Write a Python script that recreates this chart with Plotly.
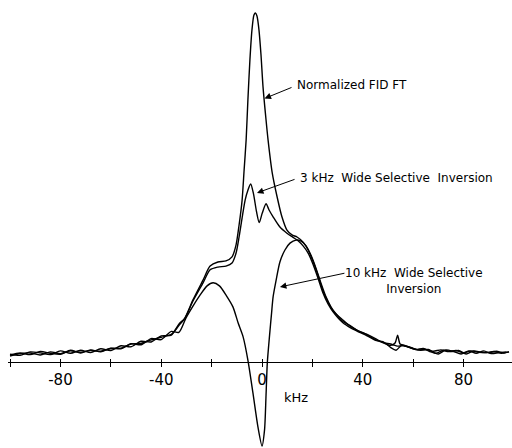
import plotly.graph_objects as go

# ---- data (frequency offset in kHz, relative intensity, FID FT peak = 100) ----
fid_x = [-100, -96, -92, -88, -84, -80, -76, -72, -68, -64, -60, -56, -52, -48, -44, -40, -36, -33,
         -30.6, -27.4, -23.4, -20.6, -17.5, -14.3, -11.9, -10.3, -9.1, -7.9, -7.1, -6.3, -5.6, -4.8,
         -4.0, -3.2, -2.6, -2.0, -1.2, -0.4, 0.4, 1.6, 2.4, 4.0, 6.0, 7.9, 9.9, 11.9, 13.9, 16.3,
         18.3, 20.2, 22.2, 24.2, 26.2, 28.2, 32.1, 35, 37.7, 41.7, 45, 48, 51, 53.6, 56, 59, 62,
         65, 68, 71, 74, 77, 80, 83, 86, 89, 92, 95, 98]
fid_y = [-0.3, 0.4, 0.6, 0.0, 0.9, 0.4, 1.2, 0.8, 1.3, 1.1, 1.9, 2.0, 3.2, 3.4, 4.4, 5.2, 6.0, 8.6,
         10.8, 16.1, 21.9, 26.0, 27.2, 27.5, 28.7, 32.2, 38.0, 45.3, 54.1, 62.9, 74.6, 86.3,
         95.0, 99.4, 100.0, 99.1, 95.0, 87.7, 78.4, 68.7, 62.9, 53.5, 46.2, 40.4, 36.5, 35.1, 34.5, 33.0,
         30.7, 27.5, 23.4, 18.7, 15.5, 12.9, 10.2, 8.4, 7.3, 6.0, 4.8, 3.6, 3.2, 2.6, 2.7, 2.2, 1.5,
         1.6, 1.1, 1.5, 1.0, 1.3, 0.6, 1.2, 0.8, 0.7, 1.0, 0.5, 0.9]

sel3_x = [-100, -96, -92, -88, -84, -80, -76, -72, -68, -64, -60, -56, -52, -48, -44, -40, -36, -33,
          -30.6, -27.4, -23.4, -20.6, -17.5, -14.3, -11.9, -10.3, -9.1, -7.9, -6.7, -5.6, -4.5,
          -3.4, -2.2, -1.1, 0.1, 1.6, 2.8, 4.4, 7.1, 9.9, 12.3, 14.3, 16.3, 18.3, 20.2, 22.2, 24.2,
          26.2, 28.2, 32.1, 35, 37.7, 41.7, 45, 48, 51, 53.2, 55.5, 58, 61, 64, 67, 70, 73, 76, 79,
          82, 85, 88, 91, 94, 97]
sel3_y = [0.2, -0.1, 0.9, 0.6, 0.1, 1.2, 0.5, 1.4, 0.7, 1.8, 1.3, 2.7, 2.4, 4.0, 3.8, 5.6, 5.8, 9.0,
          10.8, 15.8, 21.1, 24.9, 25.7, 26.0, 26.9, 29.8, 34.5, 40.1, 45.3, 48.2, 50.0,
          47.2, 42.0, 38.7, 41.5, 44.2, 42.4, 40.4, 37.4, 35.6, 34.4, 33.4, 31.9, 29.8, 26.6, 22.5, 18.1,
          14.9, 12.6, 9.4, 8.0, 7.0, 5.6, 4.3, 3.9, 2.2, 1.4, 2.9, 2.4, 1.6, 1.9, 0.9, 0.3, 1.5, 1.0, 0.3,
          1.2, 0.5, 1.2, 0.4, 0.7, 0.9]

sel10_x = [-100, -96, -92, -88, -84, -80, -76, -72, -68, -64, -60, -56, -52, -48, -44, -40, -36, -33,
           -30.2, -27.4, -24.6, -21.8, -19.4, -16.9, -14.1, -11.5, -9.5, -7.5, -5.6, -3.6, -1.6, 0.0,
           1.0, 1.6, 2.1, 3.0, 3.8, 4.4, 5.6, 7.1, 9.1, 11.1, 13.5, 15.5, 17.5, 19.4, 21.4, 23.4,
           25.4, 27.4, 29.4, 32.1, 35, 37.7, 41.7, 45, 48, 51, 52.8, 53.8, 54.8, 57, 60, 63, 66, 69,
           72, 75, 78, 81, 84, 87, 90, 93, 96, 98]
sel10_y = [0.0, 0.6, 0.1, 1.0, 0.5, 0.2, 1.4, 0.6, 1.5, 0.9, 2.0, 1.8, 3.3, 3.0, 4.8, 4.5, 6.9, 6.6,
           10.8, 14.3, 17.5, 20.2, 21.1, 20.2, 17.3, 14.0, 9.4, 5.3, -1.5, -11.1, -21.1, -26.6,
           -21.9, -11.7, -2.3, 5.8, 12.3, 17.0, 21.9, 27.2, 30.7, 32.7, 33.6, 33.3, 31.9, 29.2, 25.4, 21.0,
           17.0, 14.0, 12.0, 9.8, 8.6, 7.2, 5.9, 4.4, 3.6, 2.8, 3.5, 5.8, 3.2, 2.6, 1.8, 1.4, 1.6, 0.5,
           1.4, 1.0, 1.3, 0.3, 1.2, 0.8, 0.7, 1.1, 0.6, 0.9]

tick_vals = [-80, -40, 0, 40, 80]
tick_text = ["-80", "-40", "0", "40", "80"]

FONT = "DejaVu Sans"
X_RANGE = [-100.8, 99.2]
Y_RANGE = [-27.2, 103.8]

fig = go.Figure()
for xs, ys, name in [(fid_x, fid_y, "Normalized FID FT"),
                     (sel3_x, sel3_y, "3 kHz Wide Selective Inversion"),
                     (sel10_x, sel10_y, "10 kHz Wide Selective Inversion")]:
    fig.add_trace(go.Scatter(x=xs, y=ys, mode="lines", name=name,
                             line=dict(color="black", width=1.4, shape="spline", smoothing=0.7),
                             showlegend=False, hoverinfo="skip"))

# invisible trace to activate the overlay axis carrying the upward tick marks
fig.add_trace(go.Scatter(x=[0], y=[0], xaxis="x2", mode="markers",
                         marker=dict(opacity=0), showlegend=False, hoverinfo="skip"))

axis_pos = (448 - 362) / 448

fig.update_layout(
    width=512, height=448,
    margin=dict(l=0, r=0, t=0, b=0),
    paper_bgcolor="white", plot_bgcolor="white",
    font=dict(family=FONT, color="black"),
    xaxis=dict(range=X_RANGE, domain=[8 / 512, 1], anchor="free", position=axis_pos,
               showgrid=False, zeroline=False, showline=True, linecolor="black", linewidth=1.3,
               tickmode="array", tickvals=tick_vals, ticktext=tick_text,
               ticks="outside", ticklen=4, tickwidth=1.3, tickcolor="black",
               minor=dict(dtick=20, tick0=0, ticks="outside", ticklen=4, tickwidth=1.3, tickcolor="black"),
               tickfont=dict(family=FONT, size=15, color="black")),
    xaxis2=dict(range=X_RANGE, domain=[8 / 512, 1], overlaying="x", anchor="free", position=axis_pos,
                showgrid=False, zeroline=False, showline=False, showticklabels=False,
                tickmode="linear", tick0=0, dtick=20, ticks="inside", ticklen=3, tickwidth=1.3,
                tickcolor="black"),
    yaxis=dict(range=Y_RANGE, visible=False, showgrid=False, zeroline=False),
)

annos = [
    dict(x=13.1, y=78.9, text="Normalized FID FT", xanchor="left", size=12),
    dict(x=14.3, y=51.8, text="3 kHz  Wide Selective  Inversion", xanchor="left", size=12),
    dict(x=60.5, y=21.6, text="10 kHz  Wide Selective<br>Inversion", xanchor="center", size=12),
    dict(x=13.5, y=-12.3, text="kHz", xanchor="center", size=13),
]
for a in annos:
    fig.add_annotation(x=a["x"], y=a["y"], xref="x", yref="y", text=a["text"], showarrow=False,
                       xanchor=a["xanchor"], yanchor="middle", align="center",
                       font=dict(family=FONT, size=a["size"], color="black"))

arrows = [
    ((12.3, 78.4), (1.0, 75.0)),
    ((13.5, 51.5), (-2.0, 47.4)),
    ((33.3, 24.0), (7.1, 19.9)),
]
for (tx, ty), (hx, hy) in arrows:
    fig.add_annotation(x=hx, y=hy, ax=tx, ay=ty, xref="x", yref="y", axref="x", ayref="y",
                       text="", showarrow=True, arrowhead=2, arrowsize=1.3, arrowwidth=1,
                       arrowcolor="black")

fig.write_html("out.html")
